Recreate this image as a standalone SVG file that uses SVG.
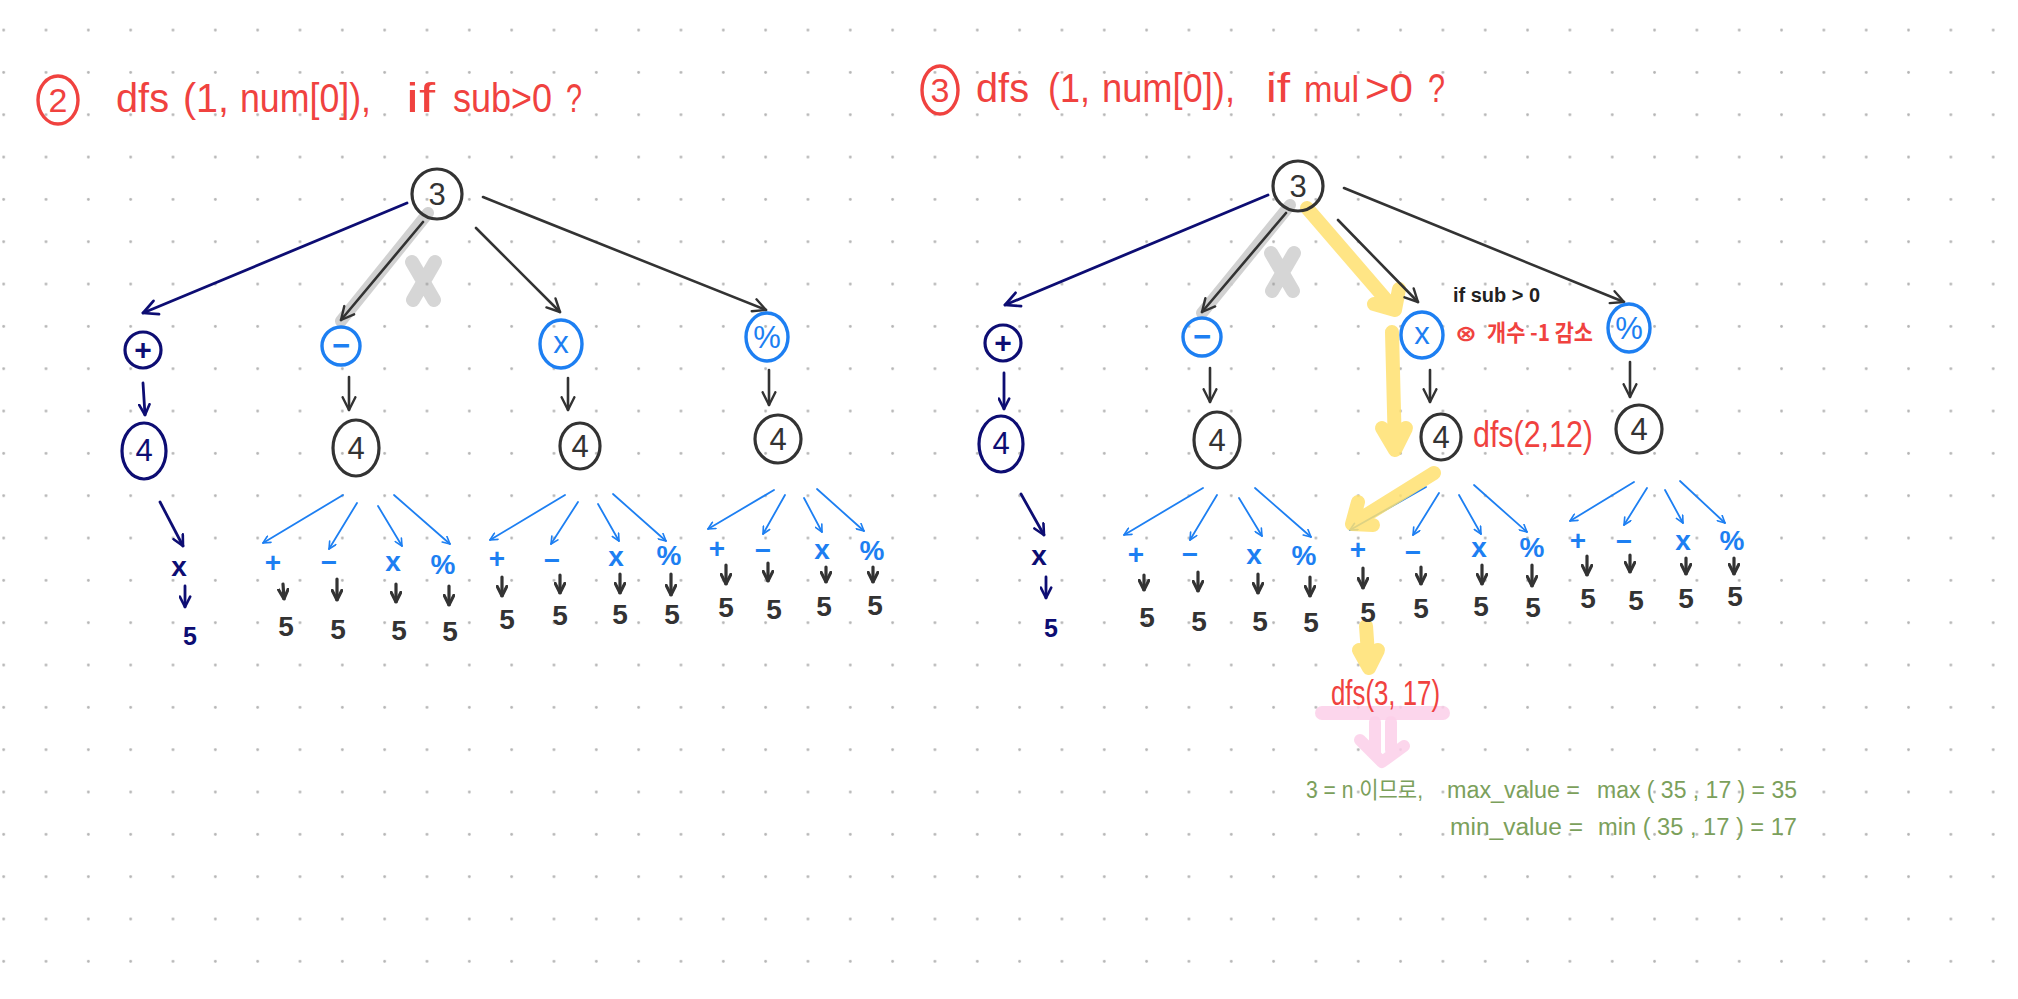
<svg xmlns="http://www.w3.org/2000/svg" width="2018" height="999" viewBox="0 0 2018 999">
<defs>
<style>
.dk{stroke:#333;stroke-width:2.6;fill:none;stroke-linecap:round;stroke-linejoin:round}
.nv{stroke:#0d0d73;stroke-width:2.8;fill:none;stroke-linecap:round;stroke-linejoin:round}
.bl{stroke:#1d7ff2;stroke-width:1.8;fill:none;stroke-linecap:round}
.bdn{stroke:#333;stroke-width:3.2;fill:none;stroke-linecap:round}
.ring-dk{stroke:#333;stroke-width:3.2;fill:none}
.ring-nv{stroke:#0d0d73;stroke-width:3.2;fill:none}
.ring-bl{stroke:#1d7ff2;stroke-width:3.4;fill:none}
.ring-rd{stroke:#f0423f;stroke-width:3.4;fill:none}
.hl-y{stroke:#ffe070;stroke-width:14;fill:none;stroke-linecap:round;stroke-linejoin:round;opacity:0.85}
.hl-g{stroke:#cccccc;stroke-width:12;fill:none;stroke-linecap:round;opacity:0.9}
.hl-p{stroke:#fccfe9;stroke-width:12;fill:none;stroke-linecap:round;stroke-linejoin:round;opacity:0.85}
text{font-family:"Liberation Sans","Noto Sans CJK KR",sans-serif}
.red{fill:#f0423f}
.ttl{font-size:40px}
.num{font-size:31px;fill:#333;text-anchor:middle;dominant-baseline:central}
.numnv{font-size:31px;fill:#0d0d73;text-anchor:middle;dominant-baseline:central}
.opc{font-size:31px;fill:#1d7ff2;text-anchor:middle;dominant-baseline:central}
.opcnv{font-size:30px;fill:#0d0d73;text-anchor:middle;dominant-baseline:central;font-weight:bold}
.op{font-size:28px;fill:#1d7ff2;font-weight:bold;text-anchor:middle;dominant-baseline:central}
.opnv{font-size:28px;fill:#0d0d73;font-weight:bold;text-anchor:middle;dominant-baseline:central}
.five{font-size:28px;fill:#333;font-weight:bold;text-anchor:middle;dominant-baseline:central}
.fivenv{font-size:25px;fill:#0d0d73;font-weight:bold;text-anchor:middle;dominant-baseline:central}
.grn{fill:#7ba05b;font-size:23px}
</style>
<pattern id="dots" patternUnits="userSpaceOnUse" x="-17.47" y="8.93" width="42.33" height="42.33">
<circle cx="21.165" cy="21.165" r="1.4" fill="#b4b4b4"/>
</pattern>
<marker id="mDk" viewBox="0 0 10 10" refX="9" refY="5" markerWidth="16" markerHeight="16" markerUnits="userSpaceOnUse" orient="auto">
<path d="M1,1 L9,5 L1,9" fill="none" stroke="#333" stroke-width="1.5" stroke-linecap="round" stroke-linejoin="round"/>
</marker>
<marker id="mNv" viewBox="0 0 10 10" refX="9" refY="5" markerWidth="18" markerHeight="18" markerUnits="userSpaceOnUse" orient="auto">
<path d="M1,1 L9,5 L1,9" fill="none" stroke="#0d0d73" stroke-width="1.5" stroke-linecap="round" stroke-linejoin="round"/>
</marker>
<marker id="mNvS" viewBox="0 0 10 10" refX="9" refY="5" markerWidth="13" markerHeight="13" markerUnits="userSpaceOnUse" orient="auto">
<path d="M1,1 L9,5 L1,9" fill="none" stroke="#0d0d73" stroke-width="2" stroke-linecap="round" stroke-linejoin="round"/>
</marker>
<marker id="mBl" viewBox="0 0 10 10" refX="9" refY="5" markerWidth="9" markerHeight="9" markerUnits="userSpaceOnUse" orient="auto">
<path d="M1,1 L9,5 L1,9" fill="none" stroke="#1d7ff2" stroke-width="1.8" stroke-linecap="round" stroke-linejoin="round"/>
</marker>
<marker id="mDn" viewBox="0 0 10 10" refX="9" refY="5" markerWidth="12" markerHeight="12" markerUnits="userSpaceOnUse" orient="auto">
<path d="M1,1 L9,5 L1,9" fill="none" stroke="#333" stroke-width="2.6" stroke-linecap="round" stroke-linejoin="round"/>
</marker>
</defs>
<rect width="2018" height="999" fill="#ffffff"/>
<rect width="2018" height="999" fill="url(#dots)"/>

<!-- titles -->
<g id="title-left">
<ellipse class="ring-rd" cx="58" cy="100" rx="20" ry="24"/>
<text class="red" x="58" y="112" font-size="34" text-anchor="middle">2</text>
<text class="red ttl" y="112"><tspan x="116" textLength="53" lengthAdjust="spacingAndGlyphs">dfs</tspan><tspan x="183" textLength="46" lengthAdjust="spacingAndGlyphs">(1,</tspan><tspan x="240" textLength="131" lengthAdjust="spacingAndGlyphs">num[0]),</tspan><tspan x="406" textLength="29" lengthAdjust="spacingAndGlyphs">if</tspan><tspan x="453" textLength="99" lengthAdjust="spacingAndGlyphs">sub&gt;0</tspan><tspan x="566" textLength="16" lengthAdjust="spacingAndGlyphs">?</tspan></text>
</g>
<g id="title-right">
<ellipse class="ring-rd" cx="940" cy="90" rx="18" ry="24"/>
<text class="red" x="940" y="102" font-size="34" text-anchor="middle">3</text>
<text class="red ttl" y="102"><tspan x="976" textLength="53" lengthAdjust="spacingAndGlyphs">dfs</tspan><tspan x="1048" textLength="42" lengthAdjust="spacingAndGlyphs">(1,</tspan><tspan x="1102" textLength="133" lengthAdjust="spacingAndGlyphs">num[0]),</tspan><tspan x="1266" textLength="24" lengthAdjust="spacingAndGlyphs">if</tspan><tspan x="1304" font-size="37" textLength="55" lengthAdjust="spacingAndGlyphs">mul</tspan><tspan x="1365" textLength="48" lengthAdjust="spacingAndGlyphs">&gt;0</tspan><tspan x="1428" textLength="17" lengthAdjust="spacingAndGlyphs">?</tspan></text>
</g>

<!-- connectors -->
<g id="connectors">
<!-- left tree root -->
<line class="nv" x1="407" y1="203" x2="143" y2="313" marker-end="url(#mNv)"/>
<line class="hl-g" x1="428" y1="213" x2="341" y2="321"/>
<line class="dk" x1="423" y1="222" x2="341" y2="320" marker-end="url(#mDk)"/>
<line class="dk" x1="476" y1="228" x2="560" y2="312" marker-end="url(#mDk)"/>
<line class="dk" x1="483" y1="197" x2="766" y2="310" marker-end="url(#mDk)"/>
<!-- left level 1 to 2 -->
<line class="nv" x1="143" y1="383" x2="145" y2="415" marker-end="url(#mNvS)"/>
<line class="dk" x1="349" y1="377" x2="349" y2="410" marker-end="url(#mDk)"/>
<line class="dk" x1="568" y1="378" x2="568" y2="410" marker-end="url(#mDk)"/>
<line class="dk" x1="769" y1="370" x2="769" y2="405" marker-end="url(#mDk)"/>
<!-- left navy chain -->
<line class="nv" x1="160" y1="502" x2="183" y2="546" marker-end="url(#mNvS)"/>
<line class="nv" x1="185" y1="586" x2="185" y2="607" marker-end="url(#mNvS)"/>
<!-- group A -->
<line class="bl" x1="343" y1="495" x2="263" y2="543" marker-end="url(#mBl)"/>
<line class="bl" x1="357" y1="503" x2="329" y2="549" marker-end="url(#mBl)"/>
<line class="bl" x1="378" y1="506" x2="402" y2="546" marker-end="url(#mBl)"/>
<line class="bl" x1="394" y1="495" x2="450" y2="544" marker-end="url(#mBl)"/>
<line class="bdn" x1="283" y1="584" x2="284" y2="599" marker-end="url(#mDn)"/>
<line class="bdn" x1="337" y1="579" x2="337" y2="600" marker-end="url(#mDn)"/>
<line class="bdn" x1="396" y1="584" x2="396" y2="602" marker-end="url(#mDn)"/>
<line class="bdn" x1="449" y1="586" x2="449" y2="605" marker-end="url(#mDn)"/>
<!-- group B -->
<line class="bl" x1="565" y1="495" x2="490" y2="540" marker-end="url(#mBl)"/>
<line class="bl" x1="578" y1="502" x2="551" y2="544" marker-end="url(#mBl)"/>
<line class="bl" x1="598" y1="504" x2="619" y2="541" marker-end="url(#mBl)"/>
<line class="bl" x1="613" y1="494" x2="666" y2="541" marker-end="url(#mBl)"/>
<line class="bdn" x1="502" y1="577" x2="502" y2="596" marker-end="url(#mDn)"/>
<line class="bdn" x1="560" y1="575" x2="560" y2="593" marker-end="url(#mDn)"/>
<line class="bdn" x1="620" y1="574" x2="620" y2="593" marker-end="url(#mDn)"/>
<line class="bdn" x1="671" y1="574" x2="671" y2="595" marker-end="url(#mDn)"/>
<!-- group C -->
<line class="bl" x1="774" y1="490" x2="708" y2="529" marker-end="url(#mBl)"/>
<line class="bl" x1="785" y1="495" x2="763" y2="534" marker-end="url(#mBl)"/>
<line class="bl" x1="804" y1="498" x2="822" y2="532" marker-end="url(#mBl)"/>
<line class="bl" x1="817" y1="489" x2="864" y2="531" marker-end="url(#mBl)"/>
<line class="bdn" x1="726" y1="565" x2="726" y2="584" marker-end="url(#mDn)"/>
<line class="bdn" x1="768" y1="563" x2="768" y2="581" marker-end="url(#mDn)"/>
<line class="bdn" x1="826" y1="567" x2="826" y2="582" marker-end="url(#mDn)"/>
<line class="bdn" x1="873" y1="567" x2="873" y2="582" marker-end="url(#mDn)"/>

<!-- right tree root -->
<line class="nv" x1="1268" y1="195" x2="1005" y2="305" marker-end="url(#mNv)"/>
<line class="hl-g" x1="1290" y1="205" x2="1202" y2="313"/>
<line class="dk" x1="1286" y1="213" x2="1202" y2="312" marker-end="url(#mDk)"/>
<path class="hl-y" d="M1307,208 L1395,310 M1374,304 L1395,310 L1399,289"/>
<line class="dk" x1="1338" y1="220" x2="1418" y2="302" marker-end="url(#mDk)"/>
<line class="dk" x1="1344" y1="188" x2="1624" y2="302" marker-end="url(#mDk)"/>
<!-- right level 1 to 2 -->
<line class="nv" x1="1004" y1="373" x2="1004" y2="409" marker-end="url(#mNvS)"/>
<line class="dk" x1="1210" y1="368" x2="1210" y2="402" marker-end="url(#mDk)"/>
<line class="dk" x1="1430" y1="370" x2="1430" y2="402" marker-end="url(#mDk)"/>
<line class="dk" x1="1630" y1="362" x2="1630" y2="397" marker-end="url(#mDk)"/>
<path class="hl-y" d="M1392,332 L1395,450 M1382,428 L1395,450 L1406,428"/>
<!-- right navy chain -->
<line class="nv" x1="1021" y1="494" x2="1044" y2="535" marker-end="url(#mNvS)"/>
<line class="nv" x1="1046" y1="577" x2="1046" y2="598" marker-end="url(#mNvS)"/>
<!-- group D -->
<line class="bl" x1="1203" y1="488" x2="1124" y2="535" marker-end="url(#mBl)"/>
<line class="bl" x1="1217" y1="495" x2="1190" y2="540" marker-end="url(#mBl)"/>
<line class="bl" x1="1239" y1="498" x2="1262" y2="536" marker-end="url(#mBl)"/>
<line class="bl" x1="1255" y1="488" x2="1311" y2="537" marker-end="url(#mBl)"/>
<line class="bdn" x1="1144" y1="575" x2="1144" y2="590" marker-end="url(#mDn)"/>
<line class="bdn" x1="1198" y1="572" x2="1198" y2="591" marker-end="url(#mDn)"/>
<line class="bdn" x1="1258" y1="574" x2="1258" y2="593" marker-end="url(#mDn)"/>
<line class="bdn" x1="1310" y1="577" x2="1310" y2="596" marker-end="url(#mDn)"/>
<!-- group E -->
<line class="bl" x1="1426" y1="487" x2="1350" y2="530" marker-end="url(#mBl)"/>
<path class="hl-y" d="M1434,473 L1352,524 M1358,502 L1352,524 L1373,525"/>
<line class="bl" x1="1439" y1="493" x2="1413" y2="535" marker-end="url(#mBl)"/>
<line class="bl" x1="1459" y1="495" x2="1481" y2="534" marker-end="url(#mBl)"/>
<line class="bl" x1="1474" y1="485" x2="1527" y2="532" marker-end="url(#mBl)"/>
<line class="bdn" x1="1363" y1="568" x2="1363" y2="588" marker-end="url(#mDn)"/>
<line class="bdn" x1="1421" y1="567" x2="1421" y2="584" marker-end="url(#mDn)"/>
<line class="bdn" x1="1482" y1="565" x2="1482" y2="584" marker-end="url(#mDn)"/>
<line class="bdn" x1="1532" y1="565" x2="1532" y2="586" marker-end="url(#mDn)"/>
<!-- group F -->
<line class="bl" x1="1634" y1="482" x2="1570" y2="521" marker-end="url(#mBl)"/>
<line class="bl" x1="1647" y1="488" x2="1624" y2="525" marker-end="url(#mBl)"/>
<line class="bl" x1="1665" y1="490" x2="1683" y2="523" marker-end="url(#mBl)"/>
<line class="bl" x1="1680" y1="481" x2="1725" y2="523" marker-end="url(#mBl)"/>
<line class="bdn" x1="1587" y1="556" x2="1587" y2="575" marker-end="url(#mDn)"/>
<line class="bdn" x1="1630" y1="555" x2="1630" y2="572" marker-end="url(#mDn)"/>
<line class="bdn" x1="1686" y1="558" x2="1686" y2="574" marker-end="url(#mDn)"/>
<line class="bdn" x1="1734" y1="558" x2="1734" y2="574" marker-end="url(#mDn)"/>
<!-- result path -->
<path class="hl-y" d="M1366,626 L1369,668 M1359,650 L1369,668 L1378,650"/>
<rect x="1315" y="706" width="135" height="14" rx="7" fill="#fccfe9" opacity="0.85"/>
<path class="hl-p" d="M1375,722 L1375,752 M1391,722 L1391,750 M1360,740 L1382,762 L1404,746"/>
</g>

<!-- cross marks (gray X) -->
<g id="cross-left" opacity="0.4">
<path d="M412,262 L434,300 M435,262 L413,300" stroke="#999999" stroke-width="14" stroke-linecap="round" fill="none"/>
</g>
<g id="cross-right" opacity="0.4">
<path d="M1271,253 L1293,291 M1294,253 L1272,291" stroke="#999999" stroke-width="14" stroke-linecap="round" fill="none"/>
</g>

<!-- LEFT TREE NODES -->
<g id="L-root"><ellipse class="ring-dk" cx="437" cy="194" rx="25" ry="25"/><text class="num" x="437" y="194">3</text></g>
<g id="L-add"><ellipse class="ring-nv" cx="143" cy="350" rx="18" ry="18"/><text class="opcnv" x="143" y="349">+</text></g>
<g id="L-sub"><ellipse class="ring-bl" cx="341" cy="346" rx="19" ry="19"/><text class="opc" x="341" y="345" font-weight="bold">−</text></g>
<g id="L-mul"><ellipse class="ring-bl" cx="561" cy="344" rx="21" ry="24"/><text class="opc" x="561" y="342">x</text></g>
<g id="L-div"><ellipse class="ring-bl" cx="767" cy="337" rx="21" ry="24"/><text class="opc" x="767" y="337" font-size="24">%</text></g>
<g id="L-add-4"><ellipse class="ring-nv" cx="144" cy="451" rx="22" ry="28"/><text class="numnv" x="144" y="450">4</text></g>
<g id="L-sub-4"><ellipse class="ring-dk" cx="356" cy="448" rx="23" ry="28"/><text class="num" x="356" y="448">4</text></g>
<g id="L-mul-4"><ellipse class="ring-dk" cx="580" cy="446" rx="20" ry="23"/><text class="num" x="580" y="446">4</text></g>
<g id="L-div-4"><ellipse class="ring-dk" cx="778" cy="439" rx="23" ry="24"/><text class="num" x="778" y="439">4</text></g>
<g id="L-add-x"><text class="opnv" x="179" y="566">x</text></g>
<g id="L-add-x-5"><text class="fivenv" x="190" y="636">5</text></g>
<g id="L-A-ops"><text class="op" x="273" y="562">+</text><text class="op" x="329" y="562">−</text><text class="op" x="393" y="561">x</text><text class="op" x="443" y="564" font-size="24">%</text></g>
<g id="L-A-fives"><text class="five" x="286" y="626">5</text><text class="five" x="338" y="629">5</text><text class="five" x="399" y="630">5</text><text class="five" x="450" y="631">5</text></g>
<g id="L-B-ops"><text class="op" x="497" y="558">+</text><text class="op" x="552" y="560">−</text><text class="op" x="616" y="556">x</text><text class="op" x="669" y="555" font-size="24">%</text></g>
<g id="L-B-fives"><text class="five" x="507" y="619">5</text><text class="five" x="560" y="615">5</text><text class="five" x="620" y="614">5</text><text class="five" x="672" y="614">5</text></g>
<g id="L-C-ops"><text class="op" x="717" y="548">+</text><text class="op" x="763" y="550">−</text><text class="op" x="822" y="549">x</text><text class="op" x="872" y="550" font-size="24">%</text></g>
<g id="L-C-fives"><text class="five" x="726" y="607">5</text><text class="five" x="774" y="609">5</text><text class="five" x="824" y="606">5</text><text class="five" x="875" y="605">5</text></g>

<!-- RIGHT TREE NODES -->
<g id="R-root"><ellipse class="ring-dk" cx="1298" cy="186" rx="25" ry="25"/><text class="num" x="1298" y="186">3</text></g>
<g id="R-add"><ellipse class="ring-nv" cx="1003" cy="343" rx="18" ry="18"/><text class="opcnv" x="1003" y="342">+</text></g>
<g id="R-sub"><ellipse class="ring-bl" cx="1202" cy="337" rx="19" ry="19"/><text class="opc" x="1202" y="336" font-weight="bold">−</text></g>
<g id="R-mul"><ellipse class="ring-bl" cx="1422" cy="335" rx="21" ry="23"/><text class="opc" x="1422" y="333">x</text></g>
<g id="R-div"><ellipse class="ring-bl" cx="1629" cy="328" rx="21" ry="24"/><text class="opc" x="1629" y="328" font-size="24">%</text></g>
<g id="R-note-sub"><text x="1453" y="302" font-size="20" fill="#222" font-weight="bold" textLength="87" lengthAdjust="spacingAndGlyphs">if sub &gt; 0</text></g>
<g id="R-note-count"><text class="red" font-size="23" font-weight="bold" y="341"><tspan x="1455" font-family="DejaVu Sans, sans-serif" font-size="22" textLength="22" lengthAdjust="spacingAndGlyphs">⊗</tspan><tspan x="1487" font-family="Noto Sans CJK KR, sans-serif" textLength="106" lengthAdjust="spacingAndGlyphs">개수 -1 감소</tspan></text></g>
<g id="R-add-4"><ellipse class="ring-nv" cx="1001" cy="444" rx="22" ry="28"/><text class="numnv" x="1001" y="443">4</text></g>
<g id="R-sub-4"><ellipse class="ring-dk" cx="1217" cy="440" rx="23" ry="28"/><text class="num" x="1217" y="440">4</text></g>
<g id="R-mul-4"><ellipse class="ring-dk" cx="1441" cy="437" rx="20" ry="23"/><text class="num" x="1441" y="437">4</text></g>
<g id="R-note-dfs2"><text class="red" x="1473" y="447" font-size="36" textLength="120" lengthAdjust="spacingAndGlyphs">dfs(2,12)</text></g>
<g id="R-div-4"><ellipse class="ring-dk" cx="1639" cy="429" rx="23" ry="24"/><text class="num" x="1639" y="429">4</text></g>
<g id="R-add-x"><text class="opnv" x="1039" y="555">x</text></g>
<g id="R-add-x-5"><text class="fivenv" x="1051" y="628">5</text></g>
<g id="R-D-ops"><text class="op" x="1136" y="554">+</text><text class="op" x="1190" y="554">−</text><text class="op" x="1254" y="554">x</text><text class="op" x="1304" y="555" font-size="24">%</text></g>
<g id="R-D-fives"><text class="five" x="1147" y="617">5</text><text class="five" x="1199" y="621">5</text><text class="five" x="1260" y="621">5</text><text class="five" x="1311" y="622">5</text></g>
<g id="R-E-ops"><text class="op" x="1358" y="549">+</text><text class="op" x="1413" y="552">−</text><text class="op" x="1479" y="547">x</text><text class="op" x="1532" y="547" font-size="24">%</text></g>
<g id="R-E-fives"><text class="five" x="1368" y="612">5</text><text class="five" x="1421" y="608">5</text><text class="five" x="1481" y="606">5</text><text class="five" x="1533" y="607">5</text></g>
<g id="R-F-ops"><text class="op" x="1578" y="540">+</text><text class="op" x="1624" y="541">−</text><text class="op" x="1683" y="540">x</text><text class="op" x="1732" y="540" font-size="24">%</text></g>
<g id="R-F-fives"><text class="five" x="1588" y="598">5</text><text class="five" x="1636" y="600">5</text><text class="five" x="1686" y="598">5</text><text class="five" x="1735" y="596">5</text></g>
<g id="R-dfs3"><text class="red" x="1331" y="705" font-size="35" textLength="109" lengthAdjust="spacingAndGlyphs">dfs(3, 17)</text></g>
<g id="R-result">
<text class="grn" y="798"><tspan x="1306" textLength="117" lengthAdjust="spacingAndGlyphs">3 = n 이므로,</tspan><tspan x="1447" textLength="133" lengthAdjust="spacingAndGlyphs">max_value =</tspan><tspan x="1597" textLength="200" lengthAdjust="spacingAndGlyphs">max ( 35 , 17 ) = 35</tspan></text>
<text class="grn" y="835"><tspan x="1450" textLength="133" lengthAdjust="spacingAndGlyphs">min_value =</tspan><tspan x="1598" textLength="199" lengthAdjust="spacingAndGlyphs">min ( 35 , 17 ) = 17</tspan></text>
</g>
</svg>
